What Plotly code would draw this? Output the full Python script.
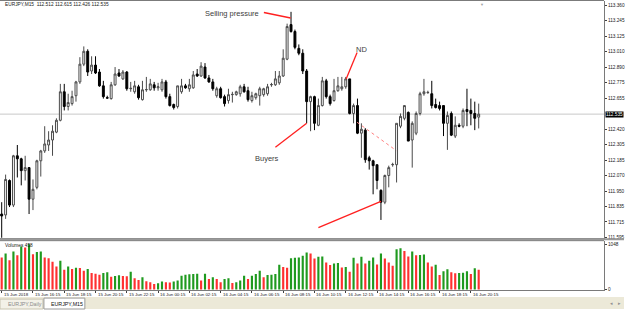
import plotly.graph_objects as go

symbol = "EURJPY,M15"

open_ = [
    111.775, 111.768, 112.030, 111.843, 112.218, 112.195, 112.105, 112.128, 111.888, 111.978,
    112.180, 112.255, 112.300, 112.338, 112.398, 112.488, 112.705, 112.593, 112.615, 112.675,
    112.780, 112.915, 113.013, 112.863, 112.908, 112.855, 112.750, 112.660, 112.653, 112.758,
    112.848, 112.803, 112.855, 112.728, 112.705, 112.743, 112.645, 112.720, 112.720, 112.758,
    112.735, 112.720, 112.780, 112.668, 112.608, 112.593, 112.705, 112.750, 112.728, 112.735,
    112.840, 112.825, 112.893, 112.810, 112.780, 112.675, 112.728, 112.668, 112.638, 112.683,
    112.683, 112.690, 112.743, 112.713, 112.638, 112.660, 112.675, 112.683, 112.690, 112.758,
    112.758, 112.773, 112.825, 112.953, 113.216, 113.163, 113.035, 112.998, 112.863, 112.630,
    112.668, 112.450, 112.600, 112.788, 112.668, 112.638, 112.713, 112.728, 112.743, 112.803,
    112.540, 112.600, 112.390, 112.413, 112.203, 112.180, 112.150, 111.955, 111.865, 112.068,
    112.150, 112.150, 112.443, 112.503, 112.548, 112.338, 112.390, 112.540, 112.690, 112.698,
    112.690, 112.608, 112.600, 112.600, 112.465, 112.540, 112.368, 112.450, 112.443, 112.570,
    112.563, 112.540, 112.512]

high = [
    111.865, 112.075, 112.038, 112.225, 112.300, 112.203, 112.218, 112.128, 112.038, 112.188,
    112.263, 112.443, 112.405, 112.450, 112.503, 112.765, 112.765, 112.690, 112.713, 112.788,
    112.968, 113.050, 113.028, 112.975, 112.975, 112.878, 112.788, 112.675, 112.780, 112.893,
    112.878, 112.870, 112.863, 112.780, 112.788, 112.758, 112.788, 112.818, 112.803, 112.780,
    112.773, 112.803, 112.795, 112.690, 112.615, 112.750, 112.803, 112.765, 112.803, 112.863,
    112.878, 112.930, 112.923, 112.833, 112.803, 112.743, 112.743, 112.683, 112.728, 112.705,
    112.713, 112.758, 112.765, 112.743, 112.705, 112.698, 112.743, 112.735, 112.765, 112.773,
    112.863, 112.863, 113.028, 113.223, 113.313, 113.178, 113.065, 113.028, 112.878, 112.675,
    112.675, 112.653, 112.818, 112.803, 112.683, 112.803, 112.818, 112.818, 112.818, 112.803,
    112.615, 112.653, 112.465, 112.428, 112.218, 112.188, 112.150, 111.963, 112.075, 112.143,
    112.165, 112.465, 112.540, 112.600, 112.555, 112.480, 112.555, 112.705, 112.803, 112.713,
    112.788, 112.653, 112.630, 112.600, 112.555, 112.555, 112.518, 112.465, 112.578, 112.728,
    112.653, 112.630, 112.615]

low = [
    111.590, 111.738, 111.828, 111.828, 112.053, 111.993, 112.030, 111.775, 111.805, 111.963,
    112.060, 112.240, 112.255, 112.218, 112.390, 112.480, 112.563, 112.563, 112.600, 112.630,
    112.765, 112.900, 112.825, 112.840, 112.840, 112.743, 112.653, 112.653, 112.645, 112.750,
    112.818, 112.795, 112.713, 112.705, 112.690, 112.645, 112.638, 112.705, 112.713, 112.713,
    112.713, 112.705, 112.653, 112.593, 112.570, 112.578, 112.690, 112.728, 112.705, 112.728,
    112.818, 112.818, 112.803, 112.773, 112.713, 112.660, 112.653, 112.593, 112.615, 112.623,
    112.675, 112.668, 112.698, 112.630, 112.623, 112.645, 112.600, 112.668, 112.675, 112.743,
    112.750, 112.758, 112.818, 112.945, 113.155, 113.028, 112.983, 112.840, 112.465, 112.405,
    112.413, 112.443, 112.593, 112.653, 112.600, 112.630, 112.705, 112.713, 112.728, 112.533,
    112.465, 112.383, 112.203, 112.165, 112.113, 111.925, 111.963, 111.730, 111.850, 111.978,
    112.135, 112.015, 112.428, 112.488, 112.330, 112.128, 112.375, 112.525, 112.675, 112.690,
    112.578, 112.578, 112.563, 112.368, 112.263, 112.368, 112.353, 112.435, 112.428, 112.443,
    112.450, 112.413, 112.426]

close = [
    111.760, 112.038, 111.843, 112.218, 112.195, 112.105, 112.128, 111.888, 111.963, 112.180,
    112.255, 112.308, 112.338, 112.405, 112.488, 112.705, 112.593, 112.623, 112.668, 112.780,
    112.915, 113.013, 112.855, 112.908, 112.848, 112.750, 112.668, 112.657, 112.758, 112.840,
    112.825, 112.855, 112.728, 112.731, 112.750, 112.660, 112.720, 112.722, 112.765, 112.735,
    112.743, 112.780, 112.668, 112.600, 112.585, 112.750, 112.750, 112.735, 112.758, 112.833,
    112.825, 112.900, 112.810, 112.780, 112.728, 112.728, 112.660, 112.615, 112.683, 112.685,
    112.705, 112.743, 112.705, 112.645, 112.675, 112.690, 112.728, 112.728, 112.743, 112.760,
    112.803, 112.825, 112.960, 113.201, 113.163, 113.043, 112.998, 112.863, 112.630, 112.668,
    112.465, 112.600, 112.788, 112.668, 112.615, 112.713, 112.750, 112.743, 112.803, 112.540,
    112.600, 112.390, 112.420, 112.188, 112.180, 112.143, 112.030, 111.865, 112.068, 112.128,
    112.152, 112.465, 112.518, 112.600, 112.330, 112.465, 112.540, 112.690, 112.705, 112.700,
    112.600, 112.585, 112.578, 112.465, 112.525, 112.375, 112.450, 112.443, 112.563, 112.555,
    112.540, 112.503, 112.535]

volume = [
    742, 834, 681, 880, 796, 995, 972, 1048, 819, 872,
    880, 742, 727, 643, 536, 666, 459, 536, 474, 505,
    497, 436, 474, 383, 367, 344, 383, 398, 298, 314,
    329, 314, 306, 413, 260, 222, 283, 191, 168, 130,
    145, 184, 168, 161, 184, 207, 321, 344, 352, 360,
    367, 207, 367, 245, 283, 245, 168, 245, 260, 153,
    168, 207, 321, 245, 321, 360, 436, 283, 337, 344,
    360, 574, 520, 505, 727, 734, 742, 780, 857, 834,
    719, 757, 765, 627, 566, 604, 612, 513, 520, 413,
    734, 604, 757, 604, 666, 742, 581, 834, 719, 627,
    551, 933, 956, 895, 765, 880, 796, 803, 811, 627,
    536, 574, 337, 421, 467, 398, 375, 383, 390, 421,
    360, 490, 458]

time_labels = ["15 Jun 2018", "15 Jun 16:15", "15 Jun 18:15", "15 Jun 20:15",
               "15 Jun 22:15", "16 Jun 00:15", "16 Jun 02:15", "16 Jun 04:15",
               "16 Jun 06:15", "16 Jun 08:15", "16 Jun 10:15", "16 Jun 12:15",
               "16 Jun 14:15", "16 Jun 16:15", "16 Jun 18:15", "16 Jun 20:15"]
bars_per_label = 8

price_ticks = [113.360, 113.245, 113.125, 113.010, 112.890, 112.775, 112.655,
               112.420, 112.305, 112.185, 112.070, 111.950, 111.835, 111.715, 111.595]

n = len(close)
assert len(open_) == n and len(high) == n and len(low) == n and len(volume) == n, \
    (len(open_), len(high), len(low), len(close), len(volume))
idx = list(range(n))

GREEN = "#1f9a1f"
RED = "#ff3030"
vol_colors = [RED] + [GREEN if volume[i] > volume[i - 1] else RED for i in range(1, n)]

W, H = 625, 312
XR = 605 / W           # right edge of plotting area (paper)
def py(px):            # pixel row -> paper y
    return 1 - px / H

FONT = "Liberation Sans"
SMALL = 4.4

fig = go.Figure()
fig.add_trace(go.Candlestick(
    x=idx, open=open_, high=high, low=low, close=close,
    increasing=dict(line=dict(color="#4a4a4a", width=1), fillcolor="white"),
    decreasing=dict(line=dict(color="#000000", width=1), fillcolor="#000000"),
    whiskerwidth=0, xaxis="x", yaxis="y", hoverinfo="skip"))
fig.add_trace(go.Bar(
    x=idx, y=volume, marker=dict(color=vol_colors, line=dict(width=0)),
    width=0.55, xaxis="x2", yaxis="y2", hoverinfo="skip"))

tick_idx = [k * bars_per_label for k in range(len(time_labels))]
xrange_ = [-0.434, 154.06]

axis_line = "#7a7a7a"
fig.update_layout(
    width=W, height=H, margin=dict(l=0, r=0, t=0, b=0),
    paper_bgcolor="white", plot_bgcolor="white", showlegend=False,
    font=dict(family=FONT, size=5, color="#202020"),
    xaxis=dict(domain=[0, XR], range=xrange_, anchor="y", showgrid=False, zeroline=False,
               showticklabels=False, rangeslider=dict(visible=False), showline=True,
               linecolor=axis_line, linewidth=1, ticks=""),
    yaxis=dict(domain=[py(240), py(1)], range=[111.595, 113.3955], side="right",
               anchor="x", showgrid=False, zeroline=False, showline=True,
               linecolor=axis_line, linewidth=1,
               tickvals=price_ticks, ticktext=[f"{v:.3f}" for v in price_ticks],
               ticks="outside", ticklen=2, tickcolor="#404040",
               tickfont=dict(size=4.7, color="#202020", family=FONT)),
    xaxis2=dict(domain=[0, XR], range=xrange_, anchor="y2", matches="x", showgrid=False,
                zeroline=False, showticklabels=False, showline=True, linecolor=axis_line,
                linewidth=1, tickvals=tick_idx, ticks="outside", ticklen=2,
                tickcolor="#404040"),
    yaxis2=dict(domain=[py(293.3), py(243)], range=[-23, 1133], side="right", anchor="x2",
                showgrid=False, zeroline=False, showline=True, linecolor=axis_line,
                linewidth=1, tickvals=[0, max(volume)],
                ticktext=["0", str(max(volume))], ticks="outside", ticklen=2,
                tickcolor="#404040", tickfont=dict(size=4.7, color="#202020", family=FONT)),
)

shapes = []
# frame lines
shapes.append(dict(type="line", xref="paper", yref="paper", x0=0, x1=XR, y0=py(0.5), y1=py(0.5),
                   line=dict(color=axis_line, width=1)))
shapes.append(dict(type="rect", xref="paper", yref="paper", x0=0, x1=1, y0=py(242.5), y1=py(240.5),
                   fillcolor="#9a9a9a", line=dict(width=0)))
shapes.append(dict(type="line", xref="paper", yref="paper", x0=0, x1=XR, y0=py(243), y1=py(243),
                   line=dict(color=axis_line, width=1)))
# current price line
shapes.append(dict(type="line", xref="paper", yref="y", x0=0, x1=XR, y0=close[-1], y1=close[-1],
                   line=dict(color="#c8c8c8", width=1), layer="below"))
# tab bar
shapes.append(dict(type="rect", xref="paper", yref="paper", x0=0, x1=1, y0=0, y1=py(300),
                   fillcolor="#ECE9D8", line=dict(width=0)))
shapes.append(dict(type="rect", xref="paper", yref="paper", x0=0, x1=43 / W, y0=0, y1=py(302),
                   fillcolor="#F3F1E8", line=dict(color="#c8c4b0", width=1)))
shapes.append(dict(type="rect", xref="paper", yref="paper", x0=44 / W, x1=85 / W, y0=0, y1=py(301),
                   fillcolor="white", line=dict(color="#9a9a9a", width=1)))

# hand-drawn red markup lines (data coordinates)
red = "#ff2020"
markup = [
    (67.06, 113.308, 73.9, 113.266),   # selling pressure
    (90.9, 113.003, 88.1, 112.803),    # ND
    (70.0, 112.283, 78.0, 112.465),    # buyers
    (81.0, 111.672, 97.0, 111.871),    # low test
]
for x0, y0, x1, y1 in markup:
    shapes.append(dict(type="line", xref="x", yref="y", x0=x0, y0=y0, x1=x1, y1=y1,
                       line=dict(color=red, width=1.3)))
shapes.append(dict(type="line", xref="x", yref="y", x0=90.9, y0=112.473, x1=100.9, y1=112.258,
                   line=dict(color="#ff8080", width=1, dash="dot")))
fig.update_layout(shapes=shapes)

ann = []
ann.append(dict(xref="paper", yref="paper", x=3 / W, y=py(4.5), xanchor="left", yanchor="middle",
                text=f"{symbol}  {open_[-1]:.3f} {high[-1]:.3f} {low[-1]:.3f} {close[-1]:.3f}",
                showarrow=False, font=dict(size=4.8, color="#202020")))
ann.append(dict(xref="paper", yref="paper", x=3 / W, y=py(248), xanchor="left", yanchor="middle",
                text=f"Volumes {volume[-1]}", showarrow=False, font=dict(size=4.8, color="#202020")))
for lbl_text, xv, yv in [("Selling pressure", 58.9, 113.298), ("ND", 92.0, 113.028),
                         ("Buyers", 67.9, 112.195)]:
    ann.append(dict(xref="x", yref="y", x=xv, y=yv, text=lbl_text, showarrow=False,
                    font=dict(size=7.5, color="#404040")))
# current price box
ann.append(dict(xref="paper", yref="y", x=XR + 1 / W, y=close[-1], xanchor="left", yanchor="middle",
                text=f"{close[-1]:.3f}", showarrow=False, bgcolor="#000000", borderpad=0,
                font=dict(size=4.7, color="white")))
# time labels
for ti, tl in zip(tick_idx, time_labels):
    ann.append(dict(xref="x2", yref="paper", x=ti, y=py(297.5), xanchor="left", yanchor="middle",
                    xshift=0, text=tl, showarrow=False, font=dict(size=SMALL, color="#202020")))
# tabs
ann.append(dict(xref="paper", yref="paper", x=6 / W, y=py(307), xanchor="left", yanchor="middle",
                text="EURJPY,Daily", showarrow=False, font=dict(size=5.3, color="#8a8a8a")))
ann.append(dict(xref="paper", yref="paper", x=49 / W, y=py(307), xanchor="left", yanchor="middle",
                text=symbol, showarrow=False, font=dict(size=5.3, color="#101010")))
ann.append(dict(xref="paper", yref="paper", x=483 / W, y=1, xanchor="center", yanchor="top",
                text="▼", showarrow=False, font=dict(size=4, color="#a0a0a0")))
ann.append(dict(xref="paper", yref="paper", x=612 / W, y=py(306), xanchor="center", yanchor="middle",
                text="◂", showarrow=False, font=dict(size=5, color="#909090")))
ann.append(dict(xref="paper", yref="paper", x=620 / W, y=py(306), xanchor="center", yanchor="middle",
                text="▸", showarrow=False, font=dict(size=5, color="#909090")))
fig.update_layout(annotations=ann)

fig.write_html("out.html")
